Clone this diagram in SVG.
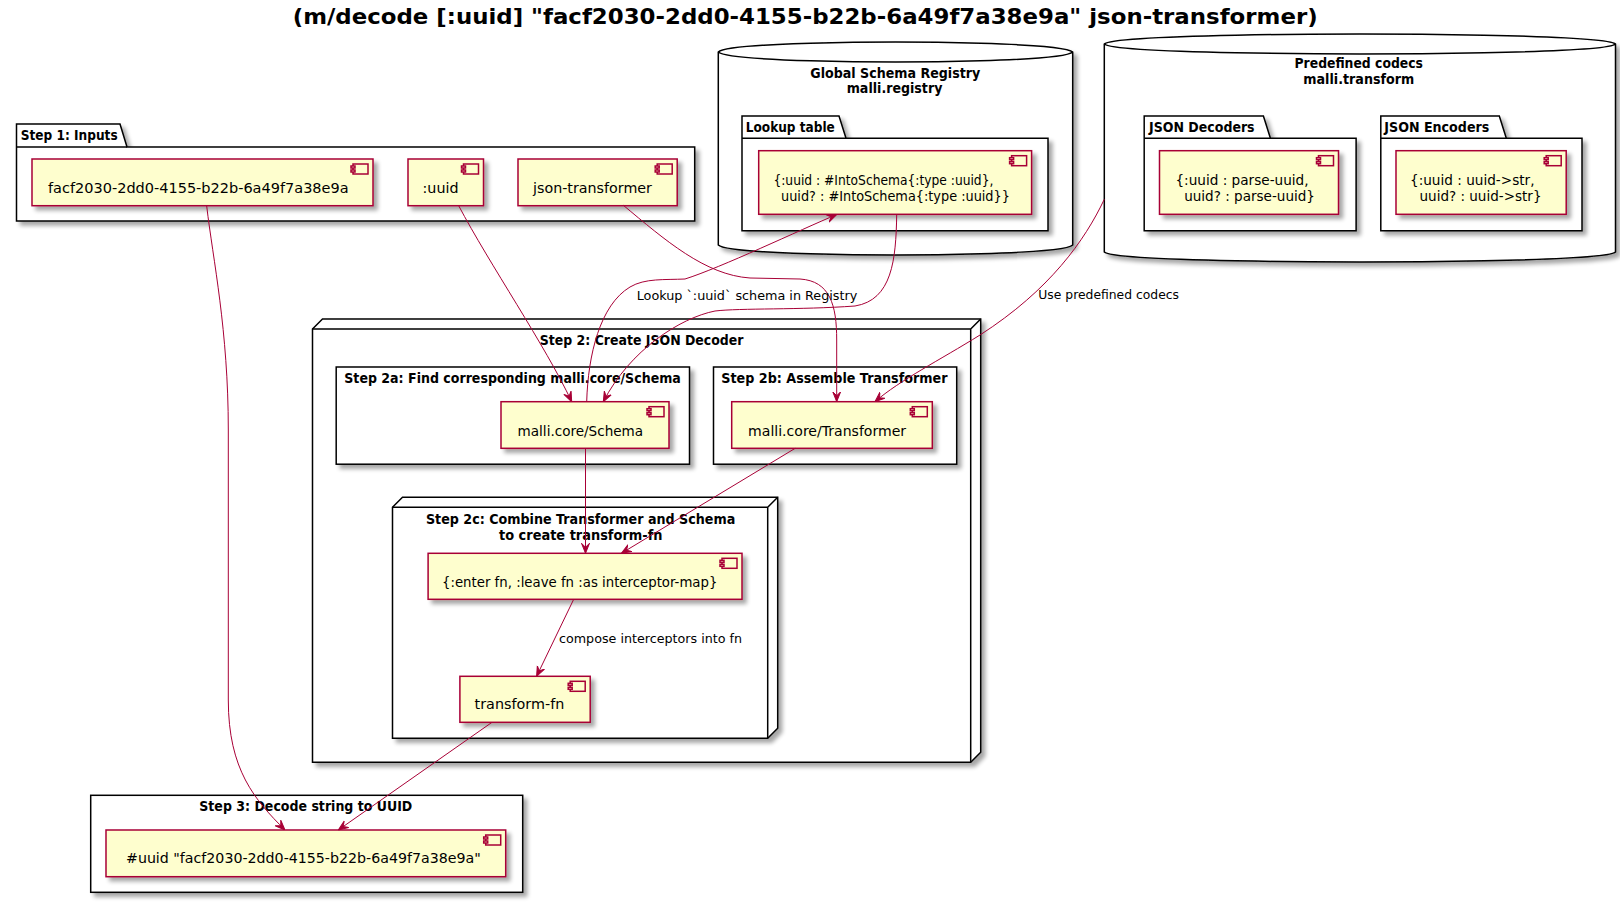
<svg xmlns="http://www.w3.org/2000/svg" width="1620" height="903" viewBox="0 0 1620 903">
<style>
.bg{fill:#FFFFFF}
.comp{fill:#FEFECE;stroke:#A80036;stroke-width:1.5}
.pkg{fill:#FFFFFF;stroke:#000000;stroke-width:1.5}
.ln{fill:none;stroke:#000000;stroke-width:1.5}
.edge{fill:none;stroke:#A80036;stroke-width:1}
.t{font-family:"DejaVu Sans","Liberation Sans",sans-serif;font-size:14px;fill:#000000}
.lb{font-family:"DejaVu Sans","Liberation Sans",sans-serif;font-size:14px;font-weight:bold;fill:#000000}
.el{font-family:"DejaVu Sans","Liberation Sans",sans-serif;font-size:13px;fill:#000000}
.title{font-family:"DejaVu Sans","Liberation Sans",sans-serif;font-size:22px;font-weight:bold;fill:#000000}
</style>
<defs>
<filter id="sh" x="-10%" y="-10%" width="130%" height="140%">
<feGaussianBlur in="SourceAlpha" stdDeviation="2"/>
<feOffset dx="4" dy="4" result="o"/>
<feComponentTransfer in="o" result="s"><feFuncA type="linear" slope="0.35"/></feComponentTransfer>
<feMerge><feMergeNode in="s"/><feMergeNode in="SourceGraphic"/></feMerge>
</filter>
<g id="icon">
<rect x="0" y="0" width="15" height="10" class="comp"/>
<rect x="-2" y="2" width="4" height="2" class="comp"/>
<rect x="-2" y="6" width="4" height="2" class="comp"/>
</g>
<marker id="arr" viewBox="0 0 10 10" refX="10" refY="5" markerWidth="10" markerHeight="10" markerUnits="userSpaceOnUse" orient="auto">
<path d="M0,1 L10,5 L0,9 L4,5 Z" fill="#A80036" stroke="#A80036" stroke-width="1"/>
</marker>
</defs>
<rect class="bg" x="0" y="0" width="1620" height="903"/>

<text class="title" x="292.7" y="23.5" textLength="1025" lengthAdjust="spacingAndGlyphs">(m/decode [:uuid] "facf2030-2dd0-4155-b22b-6a49f7a38e9a" json-transformer)</text>

<!-- Step 1 package -->
<g id="step1">
<path class="pkg" filter="url(#sh)" d="M16.5,124 L120,124 L127,147 L694.7,147 L694.7,221 L16.5,221 Z"/>
<path class="ln" d="M16.5,147 L127,147"/>
<text class="lb" x="20.7" y="139.5" textLength="97" lengthAdjust="spacingAndGlyphs">Step 1: Inputs</text>
</g>
<g id="c-facf">
<rect class="comp" filter="url(#sh)" x="32" y="159" width="341" height="46.7"/>
<use href="#icon" x="353" y="164"/>
<text class="t" x="48" y="193" textLength="300.6" lengthAdjust="spacingAndGlyphs">facf2030-2dd0-4155-b22b-6a49f7a38e9a</text>
</g>
<g id="c-uuid">
<rect class="comp" filter="url(#sh)" x="408" y="159" width="75.5" height="46.7"/>
<use href="#icon" x="463.5" y="164"/>
<text class="t" x="422.5" y="193" textLength="36" lengthAdjust="spacingAndGlyphs">:uuid</text>
</g>
<g id="c-json">
<rect class="comp" filter="url(#sh)" x="518" y="159" width="159.2" height="46.7"/>
<use href="#icon" x="657.2" y="164"/>
<text class="t" x="533" y="193" textLength="119" lengthAdjust="spacingAndGlyphs">json-transformer</text>
</g>

<!-- Global Schema Registry database -->
<g id="registry">
<path class="pkg" filter="url(#sh)" d="M718.3,52 C728.3,42 895.5,42 895.5,42 C895.5,42 1062.7,42 1072.7,52 L1072.7,245 C1062.7,255 895.5,255 895.5,255 C895.5,255 728.3,255 718.3,245 Z"/>
<path class="ln" d="M718.3,52 C728.3,62 895.5,62 895.5,62 C895.5,62 1062.7,62 1072.7,52"/>
<text class="lb" x="810.3" y="77.5" textLength="170" lengthAdjust="spacingAndGlyphs">Global Schema Registry</text>
<text class="lb" x="846.7" y="93.3" textLength="95.7" lengthAdjust="spacingAndGlyphs">malli.registry</text>
</g>
<g id="lookup-pkg">
<path class="pkg" filter="url(#sh)" d="M742,116 L839,116 L846,138.3 L1048,138.3 L1048,230.7 L742,230.7 Z"/>
<path class="ln" d="M742,138.3 L846,138.3"/>
<text class="lb" x="745.8" y="131.5" textLength="89" lengthAdjust="spacingAndGlyphs">Lookup table</text>
</g>
<g id="c-lookup">
<rect class="comp" filter="url(#sh)" x="758.7" y="150.7" width="272.9" height="63.6"/>
<use href="#icon" x="1011.6" y="155.7"/>
<text class="t" x="773.4" y="185" textLength="220" lengthAdjust="spacingAndGlyphs">{:uuid : #IntoSchema{:type :uuid},</text>
<text class="t" x="781" y="200.7" textLength="228.9" lengthAdjust="spacingAndGlyphs">uuid? : #IntoSchema{:type :uuid}}</text>
</g>

<!-- Predefined codecs database -->
<g id="codecs">
<path class="pkg" filter="url(#sh)" d="M1104.3,44 C1114.3,34 1359.9,34 1359.9,34 C1359.9,34 1605.5,34 1615.5,44 L1615.5,252 C1605.5,262 1359.9,262 1359.9,262 C1359.9,262 1114.3,262 1104.3,252 Z"/>
<path class="ln" d="M1104.3,44 C1114.3,54 1359.9,54 1359.9,54 C1359.9,54 1605.5,54 1615.5,44"/>
<text class="lb" x="1294.5" y="68.3" textLength="128.5" lengthAdjust="spacingAndGlyphs">Predefined codecs</text>
<text class="lb" x="1303.3" y="84.3" textLength="111" lengthAdjust="spacingAndGlyphs">malli.transform</text>
</g>
<g id="decoders-pkg">
<path class="pkg" filter="url(#sh)" d="M1144.2,116 L1263.4,116 L1270.4,138.3 L1356.1,138.3 L1356.1,230.7 L1144.2,230.7 Z"/>
<path class="ln" d="M1144.2,138.3 L1270.4,138.3"/>
<text class="lb" x="1149" y="131.5" textLength="105.6" lengthAdjust="spacingAndGlyphs">JSON Decoders</text>
</g>
<g id="c-decoders">
<rect class="comp" filter="url(#sh)" x="1159.5" y="150.7" width="179" height="63.6"/>
<use href="#icon" x="1318.5" y="155.7"/>
<text class="t" x="1175.4" y="185" textLength="133.2" lengthAdjust="spacingAndGlyphs">{:uuid : parse-uuid,</text>
<text class="t" x="1184.2" y="200.7" textLength="130.8" lengthAdjust="spacingAndGlyphs">uuid? : parse-uuid}</text>
</g>
<g id="encoders-pkg">
<path class="pkg" filter="url(#sh)" d="M1380.8,116 L1499.3,116 L1506.3,138.3 L1582,138.3 L1582,230.7 L1380.8,230.7 Z"/>
<path class="ln" d="M1380.8,138.3 L1506.3,138.3"/>
<text class="lb" x="1384.3" y="131.5" textLength="105" lengthAdjust="spacingAndGlyphs">JSON Encoders</text>
</g>
<g id="c-encoders">
<rect class="comp" filter="url(#sh)" x="1396" y="150.7" width="170.2" height="63.6"/>
<use href="#icon" x="1546.2" y="155.7"/>
<text class="t" x="1410" y="185" textLength="124.5" lengthAdjust="spacingAndGlyphs">{:uuid : uuid-&gt;str,</text>
<text class="t" x="1419.5" y="200.7" textLength="122" lengthAdjust="spacingAndGlyphs">uuid? : uuid-&gt;str}</text>
</g>

<!-- Step 2 node -->
<g id="step2">
<path class="pkg" filter="url(#sh)" d="M312.5,329 L322.5,319 L980.7,319 L980.7,752.3 L970.7,762.3 L312.5,762.3 Z"/>
<path class="ln" d="M312.5,329 L970.7,329 L970.7,762.3 M970.7,329 L980.7,319"/>
<text class="lb" x="539.8" y="345" textLength="203.7" lengthAdjust="spacingAndGlyphs">Step 2: Create JSON Decoder</text>
</g>
<g id="step2a">
<rect class="pkg" filter="url(#sh)" x="336.2" y="367" width="353.3" height="97.2"/>
<text class="lb" x="344.3" y="382.7" textLength="336.5" lengthAdjust="spacingAndGlyphs">Step 2a: Find corresponding malli.core/Schema</text>
</g>
<g id="c-schema">
<rect class="comp" filter="url(#sh)" x="501" y="401.7" width="168" height="46.6"/>
<use href="#icon" x="649" y="406.7"/>
<text class="t" x="517.6" y="436" textLength="125.5" lengthAdjust="spacingAndGlyphs">malli.core/Schema</text>
</g>
<g id="step2b">
<rect class="pkg" filter="url(#sh)" x="713.5" y="367" width="243.2" height="97.2"/>
<text class="lb" x="721.3" y="382.7" textLength="226.2" lengthAdjust="spacingAndGlyphs">Step 2b: Assemble Transformer</text>
</g>
<g id="c-transformer">
<rect class="comp" filter="url(#sh)" x="731.7" y="401.7" width="200.6" height="46.6"/>
<use href="#icon" x="912.3" y="406.7"/>
<text class="t" x="748.1" y="436" textLength="158" lengthAdjust="spacingAndGlyphs">malli.core/Transformer</text>
</g>
<g id="step2c">
<path class="pkg" filter="url(#sh)" d="M392.5,507.3 L402.5,497.3 L777.7,497.3 L777.7,728.3 L767.7,738.3 L392.5,738.3 Z"/>
<path class="ln" d="M392.5,507.3 L767.7,507.3 L767.7,738.3 M767.7,507.3 L777.7,497.3"/>
<text class="lb" x="425.9" y="524" textLength="309.4" lengthAdjust="spacingAndGlyphs">Step 2c: Combine Transformer and Schema</text>
<text class="lb" x="499" y="539.5" textLength="163.5" lengthAdjust="spacingAndGlyphs">to create transform-fn</text>
</g>
<g id="c-interceptor">
<rect class="comp" filter="url(#sh)" x="428.1" y="553.3" width="313.9" height="46"/>
<use href="#icon" x="722" y="558.3"/>
<text class="t" x="442" y="586.7" textLength="275.4" lengthAdjust="spacingAndGlyphs">{:enter fn, :leave fn :as interceptor-map}</text>
</g>
<g id="c-transformfn">
<rect class="comp" filter="url(#sh)" x="459.9" y="676.3" width="130.3" height="46"/>
<use href="#icon" x="570.2" y="681.3"/>
<text class="t" x="474.6" y="709" textLength="89.7" lengthAdjust="spacingAndGlyphs">transform-fn</text>
</g>

<!-- Step 3 -->
<g id="step3">
<rect class="pkg" filter="url(#sh)" x="90.7" y="795.3" width="432" height="97"/>
<text class="lb" x="199.3" y="810.7" textLength="213" lengthAdjust="spacingAndGlyphs">Step 3: Decode string to UUID</text>
</g>
<g id="c-result">
<rect class="comp" filter="url(#sh)" x="106" y="830" width="399.7" height="46.7"/>
<use href="#icon" x="485.7" y="835"/>
<text class="t" x="126" y="863.3" textLength="354.7" lengthAdjust="spacingAndGlyphs">#uuid "facf2030-2dd0-4155-b22b-6a49f7a38e9a"</text>
</g>

<!-- Connectors -->
<g id="connectors">
<path class="edge" marker-end="url(#arr)" d="M206.7,206 C213,260 228.3,330 228.3,430 L228.3,700 C228.3,770 255,800 285,830"/>
<path class="edge" marker-end="url(#arr)" d="M458.3,205 C490,265 545,345 571.7,401.7"/>
<path class="edge" marker-end="url(#arr)" d="M623,205 C665,240 705,275 750,278 L800,279 C830,281 836.7,305 836.7,340 L836.7,401.7"/>
<path class="edge" marker-end="url(#arr)" d="M586.7,401.7 C588,355 600,305 630,287 C645,278 665,280 685,279 C720,268 800,230 836.7,214.5"/>
<path class="edge" marker-end="url(#arr)" d="M896.7,214.5 C896,260 892,300 855,306 C800,310 740,308 715,311 C680,318 630,350 603.3,401.7"/>
<text class="el" x="636.7" y="300" textLength="220.6" lengthAdjust="spacingAndGlyphs">Lookup `:uuid` schema in Registry</text>
<path class="edge" marker-end="url(#arr)" d="M1104.3,199.3 C1085,240 1050,290 980,335 C940,360 900,380 875,401.7"/>
<text class="el" x="1038.3" y="299.3" textLength="140.7" lengthAdjust="spacingAndGlyphs">Use predefined codecs</text>
<path class="edge" marker-end="url(#arr)" d="M585.5,448.3 L585.5,553.3"/>
<path class="edge" marker-end="url(#arr)" d="M795.2,448.3 L621.4,553.3"/>
<path class="edge" marker-end="url(#arr)" d="M573.7,599.3 L536.6,676.3"/>
<text class="el" x="559" y="642.7" textLength="183" lengthAdjust="spacingAndGlyphs">compose interceptors into fn</text>
<path class="edge" marker-end="url(#arr)" d="M492,722.3 L338.3,830"/>
</g>
</svg>
